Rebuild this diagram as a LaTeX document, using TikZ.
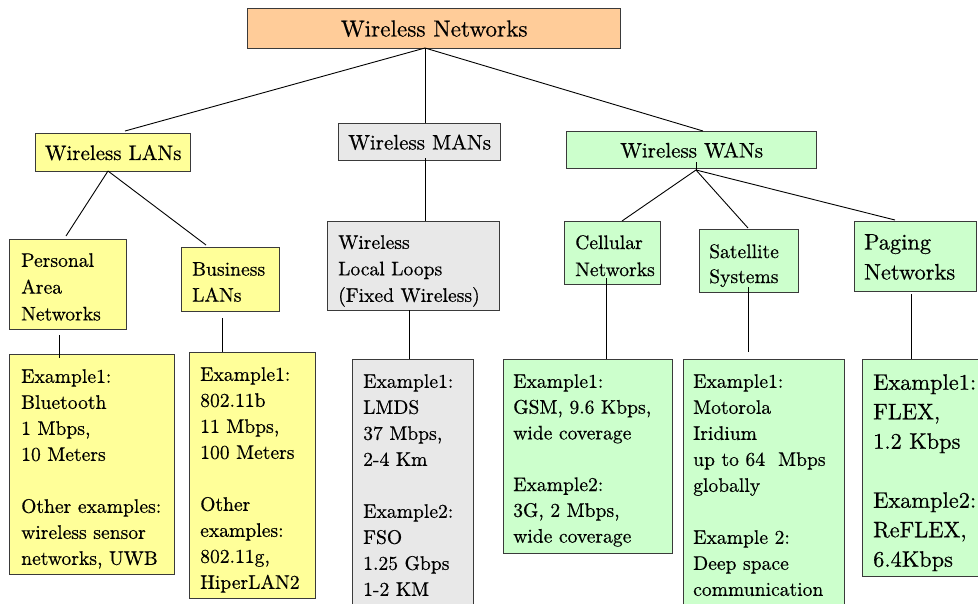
\documentclass[tikz,border=0pt]{standalone}
\usepackage{fontspec}
\newfontfamily\boxfont{lmroman10-regular}[Extension=.otf, FakeBold=0.5]
\usetikzlibrary{calc}

\definecolor{fillorange}{HTML}{FFCC99}
\definecolor{fillyellow}{HTML}{FFFF99}
\definecolor{fillgray}{HTML}{E8E8E8}
\definecolor{fillgreen}{HTML}{CCFFCC}
\definecolor{edgegray}{HTML}{3A3A3A}

\tikzset{
  x=1pt, y=-1pt,
  box/.style={draw=edgegray, line width=1.4pt, inner sep=0pt, anchor=north west},
  headbox/.style={box, font=\boxfont\fontsize{21}{26}\selectfont},
  txt/.style={inner sep=0pt, anchor=north west, align=left,
    font=\boxfont\fontsize{19.6}{26}\selectfont},
  bigtxt/.style={txt, font=\boxfont\fontsize{22.4}{29.5}\selectfont},
  conn/.style={draw=black, line width=0.9pt}
}

\begin{document}
\begin{tikzpicture}
\useasboundingbox (0,0) rectangle (978,603);
\fill[white] (0,0) rectangle (978,603);
\clip (0,0) rectangle (978,603);

% ---- root and first level
\node[box, fill=fillorange, minimum width=373pt, minimum height=40pt,
      font=\boxfont\fontsize{23.2}{28}\selectfont] (top) at (247,8) {Wireless Networks};
\node[headbox, fill=fillyellow, minimum width=155pt, minimum height=38pt] (lan) at (35,133) {Wireless LANs};
\node[headbox, fill=fillgray, minimum width=162pt, minimum height=37pt] (man) at (338,123) {Wireless MANs};
\node[headbox, fill=fillgreen, minimum width=250pt, minimum height=37pt] (wan) at (566,131) {Wireless WANs};

% ---- second level boxes
\node[box, fill=fillyellow, minimum width=117pt, minimum height=90pt] (pan) at (9,239) {};
\node[box, fill=fillyellow, minimum width=98pt, minimum height=64pt] (bus) at (181,247) {};
\node[box, fill=fillgray, minimum width=172pt, minimum height=89pt] (wll) at (327,221) {};
\node[box, fill=fillgreen, minimum width=96pt, minimum height=63pt] (cell) at (564,221) {};
\node[box, fill=fillgreen, minimum width=99pt, minimum height=63pt] (sat) at (699,229) {};
\node[box, fill=fillgreen, minimum width=122pt, minimum height=70pt] (paging) at (854,221) {};

% ---- example boxes
\node[box, fill=fillyellow, minimum width=165pt, minimum height=220pt] (panex) at (9,354) {};
\node[box, fill=fillyellow, minimum width=126pt, minimum height=246pt] (busex) at (189,352) {};
\node[box, fill=fillgray, minimum width=121pt, minimum height=270pt] (wllex) at (352,359) {};
\node[box, fill=fillgreen, minimum width=169pt, minimum height=194pt] (cellex) at (503,359) {};
\node[box, fill=fillgreen, minimum width=161pt, minimum height=270pt] (satex) at (683,359) {};
\node[box, fill=fillgreen, minimum width=130pt, minimum height=217pt] (pagex) at (862,359) {};

% ---- box texts
\node[txt, font=\boxfont\fontsize{19.6}{26.8}\selectfont] (pan-t) at (21,253) {Personal\\Area\\Networks};
\node[txt] (bus-t) at (192,262) {Business\\LANs};
\node[txt, font=\boxfont\fontsize{19.6}{26.5}\selectfont] (wll-t) at (338,235) {Wireless\\Local Loops\\(Fixed Wireless)};
\node[txt, font=\boxfont\fontsize{19.6}{27}\selectfont] (cell-t) at (575,235) {Cellular\\Networks};
\node[txt, font=\boxfont\fontsize{19.6}{25}\selectfont] (sat-t) at (709,244) {Satellite\\Systems};
\node[bigtxt, font=\boxfont\fontsize{22.4}{30}\selectfont] (paging-t) at (864,234) {Paging\\Networks};

\node[txt] (panex-t) at (21,369)
  {Example1:\\Bluetooth\\1 Mbps,\\10 Meters\\[26pt]Other examples:\\wireless sensor\\networks, UWB};
\node[txt] (busex-t) at (200,367)
  {Example1:\\802.11b\\11 Mbps,\\100 Meters\\[26pt]Other\\examples:\\802.11g,\\HiperLAN2};
\node[txt] (wllex-t) at (363,374)
  {Example1:\\LMDS\\37 Mbps,\\2-4 Km\\[26pt]Example2:\\FSO\\1.25 Gbps\\1-2 KM};
\node[txt, font=\boxfont\fontsize{19.6}{25.8}\selectfont] (cellex-t) at (513,374)
  {Example1:\\GSM, 9.6 Kbps,\\wide coverage\\[25.8pt]Example2:\\3G, 2 Mbps,\\wide coverage};
\node[txt] (satex-t) at (693,374)
  {Example1:\\Motorola\\Iridium\\up to 64\ \ Mbps\\globally\\[26pt]Example 2:\\Deep space\\communication};
\node[bigtxt] (pagex-t) at (873,374)
  {Example1:\\FLEX,\\1.2 Kbps\\[29.5pt]Example2:\\ReFLEX,\\6.4Kbps};

% ---- connectors
\coordinate (tfork) at ($(top.north west)+(178,40)$);
\coordinate (lfork) at ($(lan.north west)+(73,38)$);
\coordinate (wtick) at ($(wan.north west)+(130,31)$);
\coordinate (wfork) at ($(wan.north west)+(130,39)$);

\draw[conn] (tfork) -- ($(lan.north west)+(90,-2)$);
\draw[conn] (tfork) -- ($(man.north west)+(87,0)$);
\draw[conn] (tfork) -- ($(wan.north west)+(137,0)$);

\draw[conn] (lfork) -- ($(pan.north west)+(57,-3)$);
\draw[conn] (lfork) -- ($(bus.north west)+(25,-2)$);
\draw[conn] ($(pan.north west)+(50,96)$) -- ($(panex.north west)+(50,4)$);
\draw[conn] ($(bus.north west)+(41,71)$) -- ($(busex.north west)+(33,0)$);

\draw[conn] ($(man.north west)+(87,35)$) -- ($(wll.north west)+(98,0)$);
\draw[conn] ($(wll.north west)+(82,89)$) -- ($(wllex.north west)+(57,0)$);

\draw[conn] (wtick) -- (wfork);
\draw[conn] (wfork) -- ($(cell.north west)+(58,0)$);
\draw[conn] (wfork) -- ($(sat.north west)+(49,-1)$);
\draw[conn] (wfork) -- ($(paging.north west)+(41,-1)$);
\draw[conn] ($(cell.north west)+(42,57)$) -- ($(cellex.north west)+(103,0)$);
\draw[conn] ($(sat.north west)+(49,58)$) -- ($(satex.north west)+(65,-7)$);
\draw[conn] ($(paging.north west)+(57,73)$) -- ($(pagex.north west)+(49,0)$);
\end{tikzpicture}
\end{document}
